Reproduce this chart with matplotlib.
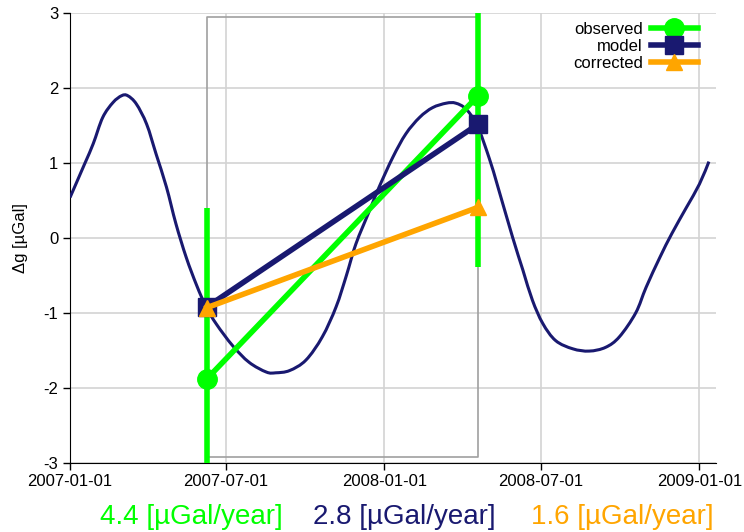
import matplotlib
matplotlib.use("Agg")
import matplotlib.pyplot as plt
import matplotlib.dates as mdates
from matplotlib.path import Path
from matplotlib.patches import PathPatch
from matplotlib.lines import Line2D
import numpy as np
import pandas as pd

plt.rcParams["font.family"] = ["Liberation Sans", "DejaVu Sans"]
plt.rcParams["axes.unicode_minus"] = False

# modelled gravity signal (thin curve)
model_dates = [
    "2007-01-01", "2007-01-18", "2007-01-28", "2007-02-08", "2007-02-20",
    "2007-03-02", "2007-03-09", "2007-03-19", "2007-03-31", "2007-04-11",
    "2007-04-23", "2007-05-04", "2007-05-16", "2007-05-28", "2007-06-08",
    "2007-06-20", "2007-07-09", "2007-07-28", "2007-08-17", "2007-08-28",
    "2007-09-13", "2007-10-02", "2007-10-21", "2007-11-06", "2007-11-18",
    "2007-11-29", "2007-12-15", "2007-12-26", "2008-01-11", "2008-01-26",
    "2008-02-11", "2008-02-26", "2008-03-13", "2008-03-24", "2008-04-05",
    "2008-04-18", "2008-05-02", "2008-05-12", "2008-05-29", "2008-06-10",
    "2008-06-21", "2008-07-03", "2008-07-18", "2008-08-07", "2008-08-26",
    "2008-09-14", "2008-09-30", "2008-10-19", "2008-10-31", "2008-11-16",
    "2008-11-30", "2008-12-17", "2009-01-01", "2009-01-12",
]
model_values = [
    0.54, 0.99, 1.26, 1.61, 1.81,
    1.90, 1.90, 1.79, 1.52, 1.12,
    0.68, 0.19, -0.26, -0.63, -0.92,
    -1.15, -1.44, -1.66, -1.79, -1.80,
    -1.77, -1.63, -1.32, -0.92, -0.50,
    -0.08, 0.37, 0.68, 1.08, 1.39,
    1.61, 1.74, 1.80, 1.80, 1.72,
    1.50, 1.06, 0.68, 0.01, -0.43,
    -0.83, -1.14, -1.37, -1.48, -1.51,
    -1.46, -1.32, -1.00, -0.66, -0.26,
    0.06, 0.41, 0.72, 1.02,
]

# two campaigns
epochs = ["2007-06-09", "2008-04-19"]
observed = [-1.88, 1.90]
observed_err = [2.28, 2.29]
modelled = [-0.92, 1.52]
corrected = [-0.93, 0.41]

# frame around the campaign interval
box_ylim = [-2.93, 2.95]

GREEN = "#00ff00"
NAVY = "#191970"
ORANGE = "#ffa500"

t_model = pd.to_datetime(model_dates)
t_obs = pd.to_datetime(epochs)
dt_years = (t_obs[1] - t_obs[0]).days / 365.25


def rate(v):
    return (v[1] - v[0]) / dt_years


def smooth_path(x, y):
    """Cubic Bezier path passing through every (x, y) sample."""
    p = np.column_stack([x, y])
    pad = np.vstack([p[0], p, p[-1]])
    verts = [p[0]]
    codes = [Path.MOVETO]
    for i in range(len(p) - 1):
        c1 = pad[i + 1] + (pad[i + 2] - pad[i]) / 6
        c2 = pad[i + 2] - (pad[i + 3] - pad[i + 1]) / 6
        verts += [c1, c2, p[i + 1]]
        codes += [Path.CURVE4] * 3
    return Path(verts, codes)


fig = plt.figure(figsize=(7.44, 5.32), dpi=100)
ax = fig.add_axes([0.0941, 0.1303, 0.868, 0.8447])

curve = smooth_path(mdates.date2num(t_model), model_values)
ax.add_patch(PathPatch(curve, facecolor="none", edgecolor=NAVY, lw=2.2,
                       zorder=3))

bx = [t_obs[0], t_obs[0], t_obs[1], t_obs[1], t_obs[0]]
by = [box_ylim[0], box_ylim[1], box_ylim[1], box_ylim[0], box_ylim[0]]
ax.plot(bx, by, color="#a0a0a0", lw=1.2, zorder=2)

ax.errorbar(t_obs, observed, yerr=observed_err, color=GREEN, lw=4,
            elinewidth=4, capsize=0, marker="o", ms=14, zorder=4)
ax.plot(t_obs, modelled, color=NAVY, lw=4, marker="s", ms=13, zorder=5)
ax.plot(t_obs, corrected, color=ORANGE, lw=4, marker="^", ms=12, zorder=6)

ax.set_ylim(-3, 3)
ax.set_yticks(range(-3, 4))
ax.set_xlim(pd.Timestamp("2007-01-01"), pd.Timestamp("2009-01-20"))
ax.set_xticks(pd.to_datetime(["2007-01-01", "2007-07-01", "2008-01-01",
                              "2008-07-01", "2009-01-01"]))
ax.xaxis.set_major_formatter(mdates.DateFormatter("%Y-%m-%d"))
ax.grid(True, color="#d3d3d3", lw=1.2, zorder=0)
ax.set_axisbelow(True)
for side in ("top", "right"):
    ax.spines[side].set_visible(False)
ax.tick_params(labelsize=12, length=5, width=1, direction="out")
ax.set_ylabel("Δg [µGal]", fontsize=12, labelpad=11)

handles = [
    Line2D([], [], color=GREEN, lw=4, marker="o", ms=14),
    Line2D([], [], color=NAVY, lw=4, marker="s", ms=13),
    Line2D([], [], color=ORANGE, lw=4, marker="^", ms=12),
]
ax.legend(handles, ["observed", "model", "corrected"], loc="upper right",
          markerfirst=False, frameon=False, fontsize=12, labelspacing=0.12,
          handlelength=2.8, handletextpad=0.5, borderaxespad=0.1,
          bbox_to_anchor=(0.985, 1.0))

text_y = 1 - 517 / 532
fig.text(191 / 744, text_y, f"{rate(observed):.1f} [µGal/year]",
         color=GREEN, fontsize=20, ha="center", va="center")
fig.text(404 / 744, text_y, f"{rate(modelled):.1f} [µGal/year]",
         color=NAVY, fontsize=20, ha="center", va="center")
fig.text(622 / 744, text_y, f"{rate(corrected):.1f} [µGal/year]",
         color=ORANGE, fontsize=20, ha="center", va="center")

fig.savefig("out.png", dpi=100)
